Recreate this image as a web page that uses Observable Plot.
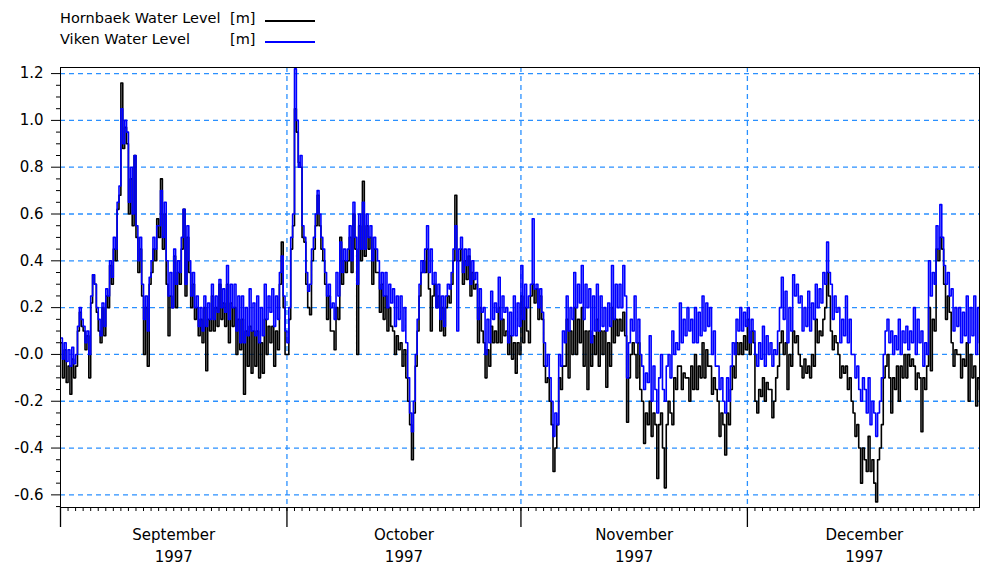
<!DOCTYPE html>
<html>
<head>
<meta charset="utf-8">
<script src="https://cdn.jsdelivr.net/npm/d3@7"></script>
<script src="https://cdn.jsdelivr.net/npm/@observablehq/plot@0.6"></script>
<style>
  html, body { margin: 0; padding: 0; background: #fff; }
  #wrap { position: relative; width: 981px; height: 567px; overflow: hidden; }
  #legend { position: absolute; left: 0; top: 0; font-family: "DejaVu Sans", sans-serif; font-size: 14.5px; color: #000; }
  .lg-text { position: absolute; white-space: nowrap; line-height: 1; }
  .lg-line { position: absolute; height: 1.5px; width: 50px; }
</style>
</head>
<body>
<div id="wrap">
  <div id="chart"></div>
  <div id="legend"></div>
</div>
<script>
// ---- Data ----
// Four readings per day (00, 06, 12, 18 UTC), starting 1 Sep 1997; one row per day.
const seriesNames = ["Hornbaek Water Level", "Viken Water Level"];
const seriesUnit = "[m]";
const seriesColors = ["#000000", "#0000ff"];
const startDate = "1997-09-01";

const hornbaekLevel = [
  0.05,-0.10,0.02,-0.12,  -0.05,-0.17,-0.02,-0.10,  -0.05,0.10,0.18,0.12,  0.10,0.02,0.08,-0.10,  0.22,0.34,0.30,0.18,
  0.10,0.05,0.20,0.08,  0.25,0.20,0.38,0.30,  0.45,0.40,0.62,0.68,  1.16,0.88,0.97,0.90,  0.60,0.75,0.55,0.85,
  0.50,0.35,0.45,0.25,  0.00,0.20,-0.05,0.30,  0.35,0.45,0.40,0.58,  0.50,0.75,0.45,0.60,  0.30,0.08,0.25,0.20,
  0.42,0.20,0.35,0.30,  0.45,0.62,0.25,0.50,  0.35,0.20,0.30,0.15,  0.20,0.08,0.15,0.05,  0.20,-0.07,0.15,0.10,
  0.25,0.10,0.20,0.12,  0.30,0.15,0.22,0.12,  0.30,0.05,0.22,0.12,  0.20,0.00,0.15,0.02,  0.15,-0.17,0.10,-0.05,
  0.12,-0.08,0.10,-0.05,  0.10,-0.10,0.05,-0.08,  0.15,0.00,0.12,0.05,  0.12,-0.05,0.10,0.02,  0.30,0.48,0.20,0.00,
  0.00,0.15,0.45,0.55,  1.05,0.95,0.82,0.80,  0.50,0.48,0.30,0.20,  0.17,0.40,0.45,0.55,  0.68,0.55,0.45,0.40,
  0.30,0.15,0.25,0.10,  0.10,0.02,0.20,0.15,  0.50,0.30,0.40,0.35,  0.40,0.50,0.35,0.60,  0.45,0.00,0.55,0.40,
  0.74,0.42,0.55,0.45,  0.50,0.30,0.45,0.35,  0.35,0.18,0.30,0.15,  0.25,0.10,0.20,0.12,  0.10,0.00,0.08,0.02,
  0.05,-0.05,0.02,-0.10,  -0.20,-0.30,-0.45,-0.25,  -0.05,0.10,0.25,0.35,  0.40,0.35,0.45,0.28,  0.10,0.25,0.30,0.20,
  0.25,0.10,0.20,0.08,  0.20,0.25,0.22,0.30,  0.40,0.68,0.40,0.40,  0.45,0.30,0.40,0.32,  0.42,0.25,0.35,0.28,
  0.30,0.05,0.20,0.10,  0.05,-0.10,0.02,-0.05,  0.12,0.05,0.10,0.05,  0.20,0.05,0.15,0.08,  0.10,0.00,0.08,-0.02,
  0.05,-0.08,0.05,0.00,  0.25,0.05,0.20,0.10,  0.05,0.25,0.30,0.22,  0.28,0.15,0.25,0.15,  -0.05,-0.12,-0.10,-0.20,
  -0.30,-0.50,-0.40,-0.30,  -0.10,-0.15,-0.05,-0.05,  0.15,-0.10,0.10,0.00,  0.20,0.00,0.15,0.05,  0.20,-0.05,0.10,-0.15,
  0.10,-0.05,0.08,0.00,  0.15,-0.05,0.10,0.00,  0.10,-0.14,0.05,-0.05,  0.20,0.05,0.15,0.08,  0.15,0.10,0.18,0.08,
  -0.29,-0.10,0.00,0.05,  0.00,-0.10,0.05,-0.15,  -0.20,-0.38,-0.25,-0.30,  -0.20,-0.35,-0.25,-0.30,  -0.53,-0.30,-0.25,-0.40,
  -0.57,-0.30,-0.20,-0.25,  -0.30,-0.10,-0.15,-0.05,  -0.05,-0.15,-0.08,-0.10,  -0.10,-0.20,-0.05,-0.15,  0.00,-0.15,-0.05,-0.10,
  0.05,-0.10,0.02,-0.05,  -0.05,-0.17,-0.10,-0.15,  -0.20,-0.35,-0.25,-0.30,  -0.43,-0.25,-0.30,-0.15,  -0.05,-0.10,0.05,0.00,
  0.05,0.00,0.08,0.02,  0.15,0.00,0.10,0.05,  -0.20,-0.25,-0.15,-0.18,  -0.10,-0.20,-0.12,-0.15,  -0.15,-0.27,-0.20,-0.10,
  -0.05,0.05,0.10,0.00,  0.05,-0.15,0.00,-0.05,  0.10,0.05,0.08,0.00,  -0.05,-0.10,-0.02,-0.08,  -0.05,-0.10,0.00,-0.05,
  0.15,0.05,0.10,0.08,  0.15,0.20,0.35,0.25,  0.10,0.02,0.08,0.05,  0.00,-0.10,-0.05,-0.08,  -0.05,-0.15,-0.10,-0.20,
  -0.25,-0.35,-0.30,-0.40,  -0.55,-0.40,-0.45,-0.50,  -0.35,-0.50,-0.45,-0.55,  -0.63,-0.45,-0.40,-0.30,  -0.10,-0.05,0.00,-0.10,
  -0.25,-0.10,-0.15,-0.05,  -0.20,-0.05,-0.10,0.00,  -0.10,0.00,-0.05,-0.02,  -0.05,-0.15,-0.08,-0.10,  -0.33,-0.10,-0.15,-0.05,
  0.20,-0.07,0.15,0.10,  0.45,0.40,0.50,0.45,  0.30,0.15,0.25,0.18,  0.05,-0.05,0.02,0.00,  0.00,-0.10,-0.02,-0.05,
  0.05,-0.20,0.00,-0.10,  -0.05,-0.22,-0.10,-0.15
];

const vikenLevel = [
  0.07,-0.02,0.05,-0.03,  0.02,-0.05,0.03,-0.04,  0.00,0.12,0.20,0.15,  0.12,0.05,0.10,0.00,  0.25,0.34,0.30,0.20,
  0.15,0.08,0.22,0.12,  0.28,0.25,0.40,0.33,  0.50,0.45,0.65,0.72,  1.05,0.90,1.00,0.95,  0.65,0.80,0.60,0.85,
  0.55,0.40,0.50,0.30,  0.15,0.25,0.10,0.33,  0.40,0.50,0.45,0.55,  0.55,0.70,0.50,0.65,  0.40,0.25,0.35,0.20,
  0.45,0.30,0.40,0.35,  0.50,0.62,0.30,0.55,  0.40,0.25,0.35,0.20,  0.25,0.12,0.20,0.10,  0.25,0.12,0.22,0.15,
  0.30,0.15,0.25,0.18,  0.32,0.20,0.28,0.18,  0.38,0.15,0.30,0.20,  0.30,0.10,0.25,0.05,  0.25,0.05,0.20,0.08,
  0.28,0.10,0.22,0.08,  0.25,0.05,0.20,0.08,  0.30,0.15,0.25,0.18,  0.28,0.12,0.25,0.15,  0.35,0.42,0.25,0.10,
  0.05,0.20,0.50,0.60,  1.22,1.00,0.80,0.85,  0.55,0.50,0.35,0.27,  0.30,0.45,0.50,0.60,  0.70,0.60,0.50,0.45,
  0.35,0.25,0.30,0.20,  0.22,0.15,0.35,0.25,  0.48,0.35,0.45,0.40,  0.45,0.55,0.40,0.65,  0.50,0.30,0.60,0.45,
  0.65,0.45,0.60,0.50,  0.55,0.40,0.50,0.45,  0.40,0.28,0.35,0.25,  0.35,0.20,0.30,0.22,  0.28,0.12,0.25,0.15,
  0.25,0.10,0.20,0.05,  -0.10,-0.25,-0.33,-0.20,  0.00,0.15,0.30,0.40,  0.35,0.45,0.55,0.35,  0.45,0.30,0.35,0.20,
  0.30,0.15,0.25,0.12,  0.25,0.30,0.28,0.35,  0.45,0.55,0.10,0.45,  0.50,0.35,0.45,0.38,  0.45,0.30,0.40,0.32,
  0.35,0.15,0.28,0.18,  0.20,0.00,0.15,0.05,  0.27,0.15,0.22,0.18,  0.33,0.15,0.25,0.18,  0.20,0.05,0.18,0.08,
  0.25,0.08,0.22,0.12,  0.38,0.15,0.30,0.20,  0.25,0.30,0.58,0.28,  0.30,0.20,0.28,0.18,  0.05,-0.05,0.00,-0.10,
  -0.20,-0.35,-0.25,-0.30,  0.00,-0.05,0.10,0.05,  0.25,0.10,0.20,0.15,  0.35,0.20,0.30,0.22,  0.38,0.15,0.30,0.20,
  0.28,0.05,0.25,0.10,  0.30,0.10,0.25,0.12,  0.20,0.10,0.22,0.12,  0.38,0.15,0.30,0.20,  0.30,0.20,0.38,0.25,
  -0.10,0.05,0.15,0.10,  0.25,0.05,0.15,0.00,  -0.05,-0.15,-0.08,-0.12,  0.08,-0.20,-0.05,-0.15,  -0.25,-0.10,0.00,-0.15,
  -0.20,-0.05,0.00,-0.10,  0.10,0.00,0.05,0.02,  0.22,0.05,0.15,0.08,  0.20,0.10,0.15,0.05,  0.20,0.05,0.18,0.08,
  0.25,0.10,0.22,0.12,  0.20,0.00,0.10,-0.05,  -0.05,-0.15,-0.10,-0.20,  -0.25,-0.10,-0.20,-0.05,  0.05,0.00,0.15,0.10,
  0.20,0.10,0.18,0.12,  0.20,0.05,0.15,0.10,  0.00,-0.05,0.05,-0.02,  0.12,-0.05,0.08,0.00,  0.05,-0.05,0.02,0.00,
  0.10,0.20,0.33,0.15,  0.27,0.05,0.20,0.10,  0.34,0.25,0.30,0.22,  0.25,0.10,0.20,0.12,  0.27,0.10,0.22,0.15,
  0.30,0.20,0.28,0.22,  0.35,0.30,0.48,0.35,  0.30,0.15,0.25,0.18,  0.20,0.05,0.15,0.08,  0.25,0.05,0.15,0.00,
  0.00,-0.10,-0.05,-0.15,  -0.20,-0.10,-0.15,-0.25,  -0.10,-0.30,-0.20,-0.25,  -0.35,-0.25,-0.20,-0.10,  0.00,0.10,0.15,0.05,
  0.10,0.00,0.08,0.02,  0.15,0.00,0.10,0.05,  0.12,0.02,0.10,0.05,  0.20,0.00,0.15,0.05,  0.10,-0.05,0.05,0.00,
  0.40,0.25,0.35,0.30,  0.55,0.45,0.64,0.50,  0.38,0.30,0.35,0.25,  0.28,0.10,0.20,0.12,  0.20,0.05,0.18,0.08,
  0.25,0.05,0.20,0.08,  0.25,0.00,0.20,0.05
];

// Axis ticks / labels
const yTicks = [-0.6, -0.4, -0.2, 0, 0.2, 0.4, 0.6, 0.8, 1.0, 1.2];
const yTickLabels = ["-0.6", "-0.4", "-0.2", "-0.0", "0.2", "0.4", "0.6", "0.8", "1.0", "1.2"];
const yMinorTicks = [-0.65, -0.55, -0.5, -0.45, -0.35, -0.3, -0.25, -0.15, -0.1, -0.05, 0.05, 0.1, 0.15, 0.25, 0.3, 0.35, 0.45, 0.5, 0.55, 0.65, 0.7, 0.75, 0.85, 0.9, 0.95, 1.05, 1.1, 1.15];
const monthStarts = ["1997-09-01", "1997-10-01", "1997-11-01", "1997-12-01"];
const monthMids = ["1997-09-16", "1997-10-16T12:00", "1997-11-16", "1997-12-16T12:00"];
const monthLabels = ["September", "October", "November", "December"];
const yearLabel = "1997";
const xDomain = ["1997-09-01", "1997-12-31T18:00"];
const yDomain = [-0.654, 1.226];

// ---- Build ----
const utc = s => new Date(s + (s.length === 10 ? "T00:00Z" : "Z"));
const t0 = utc(startDate).getTime();
const STEP = 6 * 3600 * 1000;
const toRows = (arr, name) => arr.map((v, i) => ({date: new Date(t0 + i * STEP), value: v, series: name}));
const hornRows = toRows(hornbaekLevel, seriesNames[0]);
const vikRows = toRows(vikenLevel, seriesNames[1]);

const dayTicks = d3.utcDay.range(utc(xDomain[0]), utc(xDomain[1]));
const starts = monthStarts.map(utc);
const mids = monthMids.map(utc);
const midLabel = new Map(mids.map((d, i) => [d.getTime(), monthLabels[i] + "\n" + yearLabel]));
const yLab = new Map(yTicks.map((v, i) => [v, yTickLabels[i]]));
const gridColor = "#2a90ff";

const chart = Plot.plot({
  width: 981,
  height: 567,
  marginLeft: 60,
  marginRight: 2,
  marginTop: 67,
  marginBottom: 60,
  style: {fontFamily: "'DejaVu Sans', sans-serif", fontSize: "15px", color: "#000", background: "#fff"},
  x: {type: "utc", domain: xDomain.map(utc)},
  y: {domain: yDomain},
  marks: [
    Plot.gridY({ticks: yTicks, stroke: gridColor, strokeOpacity: 1, strokeWidth: 1.3, strokeDasharray: "5,4"}),
    Plot.gridX({ticks: starts.slice(1), stroke: gridColor, strokeOpacity: 1, strokeWidth: 1.3, strokeDasharray: "5,4"}),
    Plot.line(hornRows, {x: "date", y: "value", stroke: seriesColors[0], strokeWidth: 1.6, curve: "step-after", clip: true}),
    Plot.line(vikRows, {x: "date", y: "value", stroke: seriesColors[1], strokeWidth: 1.6, curve: "step-after", clip: true}),
    Plot.frame({stroke: "#000", strokeWidth: 1}),
    Plot.axisY({ticks: yTicks, tickSize: 9, tickPadding: 8, tickFormat: v => yLab.get(v), label: null}),
    Plot.axisY({ticks: yMinorTicks, tickSize: 4, tickFormat: () => "", label: null}),
    Plot.axisX({ticks: dayTicks, tickSize: 4, tickFormat: () => "", label: null}),
    Plot.axisX({ticks: starts, tickSize: 20, tickFormat: () => "", label: null, strokeWidth: 1.3}),
    Plot.axisX({ticks: mids, tickSize: 0, tickPadding: 17, lineHeight: 1.45, tickFormat: d => midLabel.get(d.getTime()), label: null})
  ]
});
document.getElementById("chart").appendChild(chart);

// Legend
const legend = document.getElementById("legend");
const legendRows = [
  {name: seriesNames[0], color: seriesColors[0], y: 20},
  {name: seriesNames[1], color: seriesColors[1], y: 41}
];
legendRows.forEach(r => {
  const t = document.createElement("div");
  t.className = "lg-text"; t.textContent = r.name;
  t.style.left = "60px"; t.style.top = (r.y - 9) + "px";
  legend.appendChild(t);
  const u = document.createElement("div");
  u.className = "lg-text"; u.textContent = seriesUnit;
  u.style.left = "230px"; u.style.top = (r.y - 9) + "px";
  legend.appendChild(u);
  const l = document.createElement("div");
  l.className = "lg-line";
  l.style.left = "265px"; l.style.top = r.y + "px";
  l.style.background = r.color;
  legend.appendChild(l);
});
</script>
</body>
</html>
